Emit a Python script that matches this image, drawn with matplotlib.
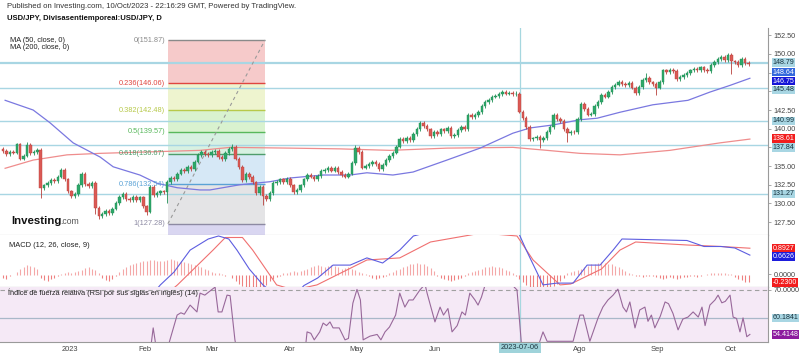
import matplotlib
matplotlib.use('Agg')
import matplotlib.pyplot as plt
import numpy as np

plt.rcParams['font.family'] = ['Liberation Sans', 'DejaVu Sans']

# --- daily candles (closes, open of day 0) ---
first_open = 137.3
closes = [
    137.0, 136.6, 136.9, 136.8, 137.9, 136.0, 136.4, 137.8, 136.7, 136.9,
    137.1, 132.0, 132.4, 132.7, 133.1, 133.0, 133.6, 134.5, 133.2, 131.6,
    131.0, 131.3, 132.5, 134.0, 132.6, 132.3, 132.7, 129.4, 128.3, 128.6,
    129.0, 128.7, 129.3, 130.1, 130.9, 131.3, 130.6, 130.4, 130.9, 130.5,
    130.8, 129.6, 128.9, 132.2, 131.1, 131.4, 131.6, 131.5, 132.9, 133.4,
    133.2, 134.0, 134.5, 134.3, 134.9, 134.6, 135.6, 136.5, 136.9, 136.6,
    136.5, 136.9, 137.0, 136.2, 135.9, 136.7, 137.3, 137.6, 136.0, 134.9,
    133.1, 133.9, 133.5, 132.8, 131.4, 132.2, 131.0, 130.6, 131.4, 132.7,
    132.9, 133.2, 132.8, 133.3, 132.4, 131.5, 131.8, 132.4, 133.2, 133.8,
    133.6, 133.2, 133.7, 134.3, 134.5, 134.7, 134.4, 134.8, 134.2, 133.8,
    133.6, 134.0, 135.4, 137.4, 136.9, 134.8, 135.0, 135.3, 135.6, 135.3,
    134.6, 135.2, 135.8, 136.3, 136.8, 137.6, 138.6, 138.4, 138.8, 138.5,
    139.3, 140.0, 140.8, 140.4, 139.9, 139.0, 139.6, 139.3, 139.9, 139.7,
    140.1, 139.0, 139.2, 139.8, 140.2, 140.0, 141.9, 141.6, 141.8, 142.2,
    143.0, 143.6, 143.8, 144.3, 144.4, 144.6, 144.9, 144.7, 144.8, 144.6,
    144.7, 142.3, 141.4, 140.2, 138.6, 138.7, 138.9, 138.5, 138.8, 139.6,
    140.2, 141.8, 141.3, 141.0, 140.0, 139.4, 139.6, 139.5, 141.3, 143.3,
    142.6, 141.9, 142.0, 143.0, 143.6, 144.5, 144.3, 144.9, 145.6, 145.9,
    146.3, 146.0, 145.8, 146.1, 145.5, 144.8, 145.6, 146.5, 146.8, 146.2,
    146.0, 145.5, 146.3, 147.8, 147.6, 147.9, 147.7, 146.6, 146.9, 147.2,
    147.5, 147.8, 148.0, 147.9, 148.2, 147.9, 147.7, 148.5, 148.9, 149.3,
    149.6, 149.2, 149.9, 149.0, 148.9, 148.5, 149.3, 148.8, 148.64,
]
# long wicks that stand out in the picture
wick_hi = {7: 138.2, 67: 137.9, 103: 137.8, 150: 145.1, 188: 147.5, 212: 150.2}
wick_lo = {11: 130.7, 27: 128.6, 28: 127.9, 42: 128.5, 48: 130.0, 76: 129.8,
           157: 137.4, 165: 138.2, 191: 144.5, 213: 147.3}

# --- moving averages (candle index, value) ---
ma50_i = [0.6, 8.8, 13.7, 20.5, 28.4, 32.2, 40, 45, 50.9, 57.6, 60.5, 69.3, 78,
          83.9, 93.6, 101.5, 106.4, 114, 119.9, 129.8, 139.5, 149.1, 154.1,
          160.8, 168.7, 173.7, 180.4, 190, 200.3, 206.7, 212.6, 218.4]
ma50_v = [143.8, 142.5, 140.8, 138.1, 136.2, 134.9, 133.8, 132.7, 132.1, 131.8,
          131.8, 132.5, 132.9, 133.4, 133.8, 133.8, 134.1, 133.8, 134.2, 135.8,
          137.4, 139.4, 140.1, 140.5, 141.2, 141.4, 142.2, 143.2, 143.8, 144.9,
          145.8, 146.75]
ma200_i = [0.6, 8.8, 18.7, 28.4, 43, 57.6, 66.4, 83.9, 98.5, 113.2, 129.8,
           149.1, 159.1, 168.7, 180.4, 195, 209.6, 218.4]
ma200_v = [134.7, 135.8, 136.5, 136.7, 136.9, 137.1, 137.5, 137.4, 137.3, 137.1,
           137.4, 137.5, 137.1, 136.7, 136.5, 137.1, 138.1, 138.61]

# --- Fibonacci retracement ---
fib_ratio = ['0', '0.236', '0.382', '0.5', '0.618', '0.786', '1']
fib_price = [151.87, 146.06, 142.48, 139.57, 136.67, 132.54, 127.28]
fib_start, fib_end = 48.2, 76.6

hlines = [148.79, 145.48, 140.99, 137.84, 131.27]

# --- MACD (12, 26, 9) ---
macd_i = [0, 40, 44, 46, 50, 54.7, 60, 63, 66, 68.4, 72, 76, 80, 86, 88, 92,
          96.5, 101.5, 106.4, 111, 116, 120, 130, 150, 153, 157.9, 162, 166.7,
          170.8, 174.6, 178.4, 181, 200, 205, 210, 214, 218.4]
macd_v = [-1.0, -0.9, -0.6, -0.33, 0.1, 0.83, 1.2, 1.3, 1.2, 0.83, 0.2, -0.33,
          -0.7, -0.6, -0.35, -0.1, 0.33, 0.33, 0.57, 0.4, 0.83, 1.3, 1.6, 1.6,
          0.83, -0.33, -0.27, -0.27, 0.33, 0.33, 0.83, 1.2, 1.15, 0.95, 0.95,
          0.9, 0.6626]
sig_i = [0, 48.2, 51, 61.4, 65, 70, 73, 80, 85, 91.8, 106.4, 116, 125, 140,
         150.3, 155, 162.9, 166, 175, 180.4, 185, 200, 210, 218.4]
sig_v = [-1.0, -0.6, -0.33, 0.83, 1.25, 1.25, 0.83, -0.33, -0.5, -0.33, 0.5,
         0.57, 1.1, 1.4, 1.3, 0.5, -0.33, -0.3, 0.2, 0.83, 1.1, 1.0, 0.95, 0.8927]
hist = [
    -0.1, -0.15, -0.05, 0.0,
    0.1, 0.2, 0.28, 0.33, 0.3, 0.25, 0.2,
    -0.1, -0.18, -0.2, -0.15, -0.1, -0.05,
    0.03, 0.06, 0.1, 0.08, 0.1, 0.12,
    0.15, 0.22, 0.25, 0.2, 0.15, 0.05,
    -0.1, -0.18, -0.2, -0.15, -0.05,
    0.1, 0.2, 0.28, 0.33, 0.38, 0.4, 0.42,
    0.45, 0.48, 0.5, 0.5, 0.48, 0.45, 0.48, 0.5, 0.52, 0.5, 0.48, 0.45, 0.42, 0.4, 0.38,
    0.33, 0.3, 0.25, 0.2, 0.15, 0.1, 0.08,
    0.05, 0.02, -0.02, 0.0,
    -0.1, -0.2, -0.3, -0.38, -0.45, -0.5, -0.5, -0.48, -0.45, -0.4, -0.35,
    -0.2, -0.12, -0.08, -0.05,
    0.05, 0.08, 0.1, 0.12, 0.1, 0.12, 0.15,
    0.2, 0.25, 0.3, 0.33, 0.3, 0.28, 0.3, 0.33, 0.3,
    0.25, 0.2, 0.22, 0.25, 0.2, 0.15, 0.1, 0.05, 0.02,
    -0.05, -0.1, -0.12, -0.1, -0.08,
    -0.03, 0.05, 0.1, 0.15, 0.2,
    0.25, 0.3, 0.35, 0.38, 0.4, 0.38, 0.35, 0.3, 0.22, 0.12,
    -0.05, -0.1, -0.15, -0.18, -0.2, -0.18, -0.15, -0.1, -0.05,
    0.05, 0.1, 0.12, 0.15, 0.2, 0.25, 0.28, 0.3, 0.28, 0.25, 0.22, 0.18, 0.12, 0.08,
    -0.05, -0.15, -0.25, -0.35, -0.42, -0.48, -0.5, -0.5, -0.48, -0.45, -0.42, -0.38, -0.3,
    -0.2, -0.1, 0.05, 0.1, 0.12,
    0.15, 0.2, 0.25, 0.3, 0.35, 0.38, 0.4, 0.42, 0.4, 0.38, 0.35, 0.3, 0.25, 0.2, 0.12, 0.05,
    0.02, -0.02, -0.05, -0.08, -0.05, -0.02,
    -0.05, -0.08, -0.1, -0.12, -0.1, -0.08, -0.1, -0.12, -0.1, -0.08, -0.06, -0.04, -0.05, -0.06, -0.04, 0.0,
    0.03, 0.05, 0.07, 0.08, 0.08, 0.06, 0.04, 0.02,
    -0.08, -0.15, -0.18, -0.22, -0.23,
]

# --- RSI (14) (candle index, value) ---
rsi_i = [0, 10, 20, 30, 40, 43, 43.9, 45, 48.2, 50.9, 52, 53, 54.7, 56.7, 57.6,
         59, 61.1, 62, 62.9, 64, 65.5, 66.4, 67.8, 69, 80, 88, 88.9, 90, 91,
         92.6, 93.6, 94.6, 95.6, 96.5, 98.3, 100, 101, 102.3, 103.5, 104.5,
         105.3, 107.3, 109.4, 110.5, 111.7, 113, 114.8, 116, 117.5, 118.7,
         119.9, 121.9, 123.4, 124, 126.3, 127.8, 128.8, 130.1, 131.3, 132.8,
         134.2, 135.2, 136.5, 138, 138.9, 139.9, 140.9, 145, 149.1, 150.3,
         151.8, 155, 157.9, 159.1, 166.7, 168.7, 169.7, 171.6, 174, 175.4,
         176.9, 178.4, 179.8, 181.3, 182.3, 183.3, 184.8, 186.2, 187.7, 188.6,
         189.6, 190.6, 192.2, 193.6, 194.6, 195.9, 197.4, 198.8, 200.3, 201.8,
         203.3, 204.4, 205.3, 206.7, 208.2, 209.1, 210.2, 211.2, 212.6, 213.5,
         214.5, 215.5, 216.4, 217.5, 218.4]
rsi_v = [48, 35, 42, 38, 45, 48, 56.7, 48, 50, 61.2, 62, 61.5, 64.7, 62.3, 68.9,
         68.2, 70.2, 71, 62.3, 62.3, 68.2, 68, 52.5, 45, 35, 45, 55.3, 54.8, 52.5,
         55.3, 58.4, 57.5, 58.8, 56.7, 56.7, 52.5, 53, 65.4, 70.2, 66.5,
         52.5, 53.8, 54.4, 52.5, 55.3, 57, 61.2, 68.9, 64, 66.5,
         66.5, 70, 72, 68.9, 58.8, 64, 61.2, 63.5, 55.3, 57.5,
         62.3, 61.2, 68.9, 66.5, 64.7, 67.5, 71.5, 73, 71.5, 70,
         48, 45, 55.3, 52, 52, 61.2, 61.2, 52, 60.2, 64,
         66.5, 68.2, 70.3, 64, 62.3, 65.8, 56.7, 63, 64, 59,
         61.2, 56.7, 60.8, 65.8, 65.2, 61.8, 56, 59.8, 60.5, 62.3,
         60.5, 64, 57.5, 64.7, 66.5, 68.2, 65.5, 66, 68.2, 60.5,
         60, 55.3, 60.2, 53.6, 54.41]

month_i = [19.6, 41.5, 61.1, 83.9, 103.5, 126.3, 168.7, 191.2, 212.6]
month_lab = ['2023', 'Feb', 'Mar', 'Abr', 'May', 'Jun', 'Ago', 'Sep', 'Oct']
marker_i, marker_lab = 151.2, '2023-07-06'

# ------------------------------------------------------------------
W, H = 800, 355
fig = plt.figure(figsize=(W / 100, H / 100), dpi=100)
ax = fig.add_axes([0, 1 - 235 / H, 768 / W, 207 / H])
axm = fig.add_axes([0, 1 - 287 / H, 768 / W, 52 / H], sharex=ax)
axr = fig.add_axes([0, 1 - 342 / H, 768 / W, 55 / H], sharex=ax)

xlo, xhi = -0.9, 223.7
GREEN, RED = '#2ea86a', '#db5a55'
LIGHT = '#a8d6e3'

for a in (ax, axm, axr):
    a.set_xlim(xlo, xhi)
    for s in ('top', 'left'):
        a.spines[s].set_visible(False)
    a.spines['right'].set_color('#9a9a9a')
    a.spines['bottom'].set_color('#9a9a9a')
    a.spines['right'].set_linewidth(0.8)
    a.yaxis.tick_right()
    a.tick_params(axis='y', labelsize=5.2, length=2, width=0.6, colors='#9a9a9a',
                  labelcolor='#444444', pad=2)
    a.tick_params(axis='x', length=0)
    a.axvline(marker_i, color='#a6d7df', lw=0.9, zorder=1)
ax.tick_params(axis='x', labelbottom=False)
axm.tick_params(axis='x', labelbottom=False)
axm.spines['bottom'].set_color('#777777')

# ---- main panel ----
ax.set_ylim(125.77, 153.48)
ticks = [127.5, 130, 132.5, 135, 137.5, 140, 142.5, 145, 147.5, 150, 152.5]
hidden = (137.5, 145, 147.5)  # sit under the price tags
ax.set_yticks(ticks)
ax.set_yticklabels(['' if t in hidden else '%.2f' % t for t in ticks])

# fibonacci boxes
fib_fill = ['#f6caca', '#eef4cf', '#d9f2cf', '#d7f1e2', '#d6e8f6', '#e4e4e6']
fib_line = ['#8a8a8a', '#e0463f', '#b7c94a', '#58b85c', '#4f9d6c', '#5aa2d6', '#8d8aa3']
for k in range(len(fib_price) - 1):
    ax.fill_between([fib_start, fib_end], fib_price[k + 1], fib_price[k],
                    color=fib_fill[k], lw=0, zorder=0.5)
ax.fill_between([fib_start, fib_end], ax.get_ylim()[0], fib_price[-1],
                color='#d9d6f1', lw=0, zorder=0.5)
for r, p, c in zip(fib_ratio, fib_price, fib_line):
    ax.hlines(p, fib_start, fib_end, color=c, lw=1.0, zorder=1.5)
    ax.text(fib_start - 0.8, p, '%s(%.2f)' % (r, p), color=c, fontsize=5.3,
            ha='right', va='center', zorder=3)
ax.plot([fib_start, fib_end], [fib_price[-1], fib_price[0]], color='#9a9a9a',
        lw=0.8, ls=(0, (3, 3)), zorder=2)

for h in hlines:
    ax.axhline(h, color=LIGHT, lw=1.6 if h == hlines[0] else 1.0, zorder=1)

ax.plot(ma200_i, ma200_v, color='#ef8d8d', lw=0.9, zorder=2)
ax.plot(ma50_i, ma50_v, color='#7a78e0', lw=0.9, zorder=2)

# candles
c = np.array(closes)
o = np.r_[first_open, c[:-1]]
idx = np.arange(len(c))
hi = np.maximum(o, c) + 0.25
lo = np.minimum(o, c) - 0.25
for k, v in wick_hi.items():
    hi[k] = v
for k, v in wick_lo.items():
    lo[k] = v
up = c >= o
cols = np.where(up, '#1f8f55', '#b8403c')
ax.vlines(idx, lo, hi, color=cols, lw=0.6, zorder=3)
body = np.maximum(np.abs(c - o), 0.1)
ax.bar(idx[up], body[up], bottom=o[up], width=0.72, color=GREEN,
       edgecolor='#1f8f55', lw=0.3, zorder=4)
ax.bar(idx[~up], body[~up], bottom=c[~up], width=0.72, color=RED,
       edgecolor='#b8403c', lw=0.3, zorder=4)

ax.text(0.013, 0.955, 'MA (50, close, 0)\nMA (200, close, 0)',
        transform=ax.transAxes, fontsize=5.3, va='top', linespacing=0.95,
        color='#222222')
ax.text(0.015, 0.055, 'Investing', transform=ax.transAxes, fontsize=8.2,
        fontweight='bold', color='#111111', va='baseline')
ax.text(0.079, 0.055, '.com', transform=ax.transAxes, fontsize=6.2,
        color='#555555', va='baseline')

# right-hand price tags (value, drawn at, face, text)
ytr = ax.get_yaxis_transform()
tags = [(148.79, 148.82, LIGHT, '#17323d'), (148.64, 147.58, '#3468dc', 'white'),
        (146.75, 146.38, '#1616d8', 'white'), (145.48, 145.2, LIGHT, '#17323d'),
        (140.99, 141.05, LIGHT, '#17323d'), (138.61, 138.65, '#f21d1d', 'white'),
        (137.84, 137.45, LIGHT, '#17323d'), (131.27, 131.27, LIGHT, '#17323d')]


def tag(a, tr, val, ypos, fc, tc, fmt='%.2f'):
    a.text(1.006, ypos, fmt % val, transform=tr, fontsize=5.1, color=tc,
           ha='left', va='center', zorder=10, clip_on=False,
           bbox=dict(boxstyle='square,pad=0.12', fc=fc, ec='none'))


for val, ypos, fc, tc in tags:
    tag(ax, ytr, val, ypos, fc, tc)

# ---- MACD panel ----
axm.set_ylim(-0.4, 1.333)
axm.set_yticks([0.03])
axm.set_yticklabels(['0.0000'])
hcol = np.where(np.array(hist) >= 0, '#f4a8a8', '#ee8080')
axm.vlines(idx, 0, hist, color=hcol, lw=0.8, zorder=2)
axm.plot(sig_i, sig_v, color='#f07070', lw=0.8, zorder=3)
axm.plot(macd_i, macd_v, color='#5d5de0', lw=0.8, zorder=3)
axm.text(0.012, 0.8, 'MACD (12, 26, close, 9)', transform=axm.transAxes,
         fontsize=5.4, color='#222222', va='center')
mtr = axm.get_yaxis_transform()
tag(axm, mtr, 0.8927, 0.8927, '#f21d1d', 'white', '%.4f')
tag(axm, mtr, 0.6626, 0.62, '#1d1ddc', 'white', '%.4f')
tag(axm, mtr, -0.23, -0.25, '#f21d1d', 'white', '%.4f')

# ---- RSI panel ----
axr.set_facecolor('#f5e9f6')
axr.set_ylim(51.75, 71.05)
axr.set_yticks([70])
axr.set_yticklabels(['70.0000'])
axr.axhline(70, color='#a0a0a0', lw=0.8, ls=(0, (4, 3)), zorder=1)
axr.axhline(60.1841, color='#a9b8c9', lw=0.9, zorder=1)
axr.plot(rsi_i, rsi_v, color='#98689a', lw=0.8, zorder=3)
axr.text(0.01, 0.89, 'Índice de fuerza relativa (RSI por sus siglas en inglés) (14)',
         transform=axr.transAxes, fontsize=5.35, color='#222222', va='center')
rtr = axr.get_yaxis_transform()
tag(axr, rtr, 60.1841, 60.1841, LIGHT, '#17323d', '%.4f')
tag(axr, rtr, 54.4148, 54.4148, '#8c1b9e', 'white', '%.4f')

axr.set_xticks(month_i)
axr.set_xticklabels(month_lab)
axr.tick_params(axis='x', labelsize=5.4, labelcolor='#444444', pad=3)
axr.text(marker_i, -0.1, marker_lab, transform=axr.get_xaxis_transform(),
         fontsize=5.4, ha='center', va='center', color='#1d3640', clip_on=False,
         bbox=dict(boxstyle='square,pad=0.2', fc='#9fd3da', ec='none'))

# ---- header ----
fig.text(0.009, 1 - 7 / H, 'Published on Investing.com, 10/Oct/2023 - 22:16:29 GMT, '
         'Powered by TradingView.', fontsize=5.6, color='#333333', va='center')
fig.text(0.009, 1 - 19 / H, 'USD/JPY, Divisasentiemporeal:USD/JPY, D',
         fontsize=5.5, fontweight='bold', color='#111111', va='center')

fig.savefig('out.png', dpi=100, facecolor='white')
